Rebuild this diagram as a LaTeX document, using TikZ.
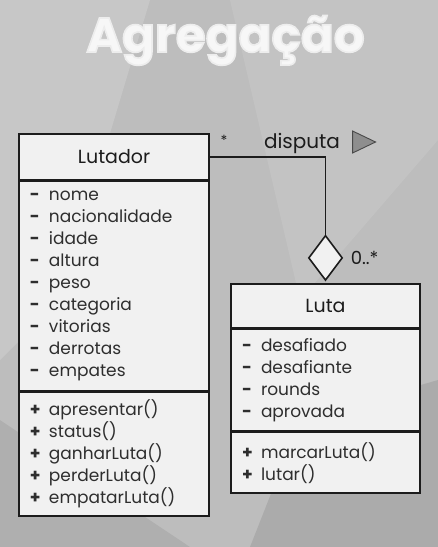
\documentclass[tikz,border=0pt]{standalone}
\usepackage{fontspec}
\setmainfont{Poppins}
\usepackage{tikz}
\usetikzlibrary{positioning,shapes.geometric}
\definecolor{bggray}{HTML}{BDBDBD}
\definecolor{boxfill}{HTML}{F1F1F1}
\definecolor{ink}{HTML}{1C1C1C}
\definecolor{txt}{HTML}{2E2E2E}
\definecolor{arrowgray}{HTML}{8E8E8E}
\newcommand{\attr}[1]{\makebox[19pt][l]{\textbf{-}}#1}
\newcommand{\oper}[1]{\makebox[19pt][l]{\textbf{+}}#1}
% heavier glyphs: fill and stroke the text
\newcommand{\heavy}[1]{\special{pdf:literal 2 Tr 1.6 w 0.93 0.93 0.93 RG}#1\special{pdf:literal 0 Tr}}

\begin{document}
\begin{tikzpicture}[x=1pt,y=-1pt,
  font=\fontsize{17}{22}\selectfont,
  head/.style={draw=ink,line width=1.6pt,fill=boxfill,text=ink,
               font=\fontsize{19}{22}\selectfont,minimum height=46pt,inner sep=0pt},
  sect/.style={draw=ink,line width=1.6pt,fill=boxfill,text=txt,align=left,
               inner xsep=11pt,inner ysep=0pt},
  link/.style={draw=ink,line width=1.6pt},
  agg/.style={diamond,draw=ink,line width=1.6pt,fill=boxfill,
              minimum width=34pt,minimum height=45pt,inner sep=0pt}]

% background
\useasboundingbox (0,0) rectangle (438,547);
\fill[bggray] (0,0) rectangle (438,547);
\fill[white,opacity=0.16] (0,0) -- (150,0) -- (60,300) -- (0,360) -- cycle;
\fill[white,opacity=0.10] (230,0) -- (438,0) -- (438,140) -- (300,300) -- cycle;
\fill[black,opacity=0.07] (0,420) -- (190,547) -- (0,547) -- cycle;
\fill[black,opacity=0.09] (300,420) -- (438,380) -- (438,547) -- (250,547) -- cycle;

% title
\node[font=\fontsize{48.5}{50}\bfseries,white!97!black,anchor=base,inner sep=0pt]
  (title) at (225.5,52) {\heavy{Agregação}};

% class Lutador
\node[head,minimum width=190pt] (lutador) at (114,157) {Lutador};
\node[sect,minimum width=190pt,text width=168pt,minimum height=209pt,
      below=0pt of lutador] (lutattr)
  {\attr{nome}\\\attr{nacionalidade}\\\attr{idade}\\\attr{altura}\\\attr{peso}\\
   \attr{categoria}\\\attr{vitorias}\\\attr{derrotas}\\\attr{empates}};
\node[sect,minimum width=190pt,text width=168pt,minimum height=124pt,
      below=0pt of lutattr] (lutops)
  {\oper{apresentar()}\\\oper{status()}\\\oper{ganharLuta()}\\\oper{perderLuta()}\\
   \oper{empatarLuta()}};

% class Luta
\node[head,minimum width=189pt,minimum height=44pt] (luta) at (325.5,306) {Luta};
\node[sect,minimum width=189pt,text width=167pt,minimum height=101pt,
      below=0pt of luta] (lutaattr)
  {\attr{desafiado}\\\attr{desafiante}\\\attr{rounds}\\\attr{aprovada}};
\node[sect,minimum width=189pt,text width=167pt,minimum height=61pt,
      below=0pt of lutaattr] (lutaops)
  {\oper{marcarLuta()}\\\oper{lutar()}};

% aggregation
\node[agg,above=2pt of luta] (dia) {};
\draw[link] (lutador.east) -| (dia.north);
\node[text=ink,font=\fontsize{14}{14}\selectfont] (mult1) at (224,140) {*};
\node[text=ink,font=\fontsize{20}{20}\selectfont] (assoc) at (302,143) {disputa};
\node[isosceles triangle,draw=ink!80,line width=0.9pt,fill=arrowgray,
      minimum height=23pt,minimum width=22pt,inner sep=0pt,isosceles triangle stretches]
  (dir) at (359.5,142) {};
\node[text=ink,font=\fontsize{18}{18}\selectfont,right=4pt of dia] (mult2) {0..*};
\end{tikzpicture}
\end{document}
